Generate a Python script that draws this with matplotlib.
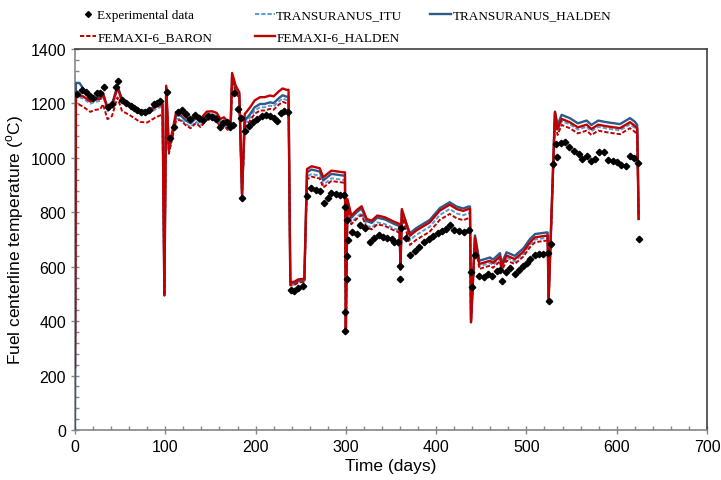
import matplotlib
matplotlib.use('Agg')
from matplotlib import pyplot as plt
from matplotlib.ticker import MultipleLocator

# experimental centerline temperature (days, degC)
exp_days = [2, 8, 12, 17, 20, 24, 28, 32, 36, 41, 45, 48, 52, 57, 62, 65, 69, 73, 77.5, 82, 87, 91, 94,
            102, 105, 110, 114, 118.5, 123, 127, 133, 137.7, 142, 147.7, 152, 156, 160.6, 164, 168, 171.7,
            175, 176, 180, 184, 184.6, 188.6, 193, 197.5, 202, 206.7, 211.5, 216, 220, 224, 228, 232, 236,
            239, 243, 247, 252, 256.6, 261, 266.6, 271, 276, 280, 284, 289, 293.5, 297.5, 299, 298.7, 299.5,
            301, 301.2, 301.6, 302.7, 307, 312, 316, 321, 326.7, 331.5, 336.7, 341.5, 346, 350.7, 353.6, 358,
            359.5, 360, 361, 366.6, 371, 376.5, 381, 386.5, 391.7, 397, 401.6, 406.5, 411, 415, 420, 425.6,
            431, 436, 438.6, 439.7, 443, 447.8, 453, 457.7, 461.4, 467, 470.7, 472.5, 477, 481.8, 487, 492,
            496.5, 501, 504, 509, 514, 518.7, 523.5, 524.6, 527, 529, 532.7, 533.4, 538, 542.7, 547.5, 553,
            558, 562, 566.7, 571, 576, 580.7, 586, 590.7, 595.5, 600, 604.7, 610, 614.7, 619.4, 624, 624.3]
exp_temp = [1235, 1251, 1241, 1229, 1219, 1237, 1237, 1259, 1188, 1198, 1259, 1282, 1214, 1200, 1192, 1184, 1177, 1169, 1170, 1177, 1197, 1200, 1210,
            1243, 1073, 1112, 1170, 1177, 1161, 1143, 1158, 1148, 1139, 1153, 1151, 1143, 1115, 1128, 1131, 1112,
            1121, 1237, 1180, 1147, 852, 1100, 1118, 1131, 1143, 1153, 1158, 1155, 1146, 1137, 1165, 1172, 1168,
            516, 510, 522, 530, 859, 888, 883, 877, 834, 853, 870, 866, 865, 863, 821, 363, 435,
            555, 641, 772, 697, 729, 720, 753, 741, 690, 705, 718, 710, 707, 702, 690, 690,
            556, 601, 741, 705, 643, 659, 671, 690, 702, 712, 723, 733, 739, 753, 736, 733,
            727, 735, 580, 524, 643, 567, 563, 573, 566, 585, 589, 546, 579, 594, 573, 589,
            601, 614, 628, 643, 645, 647, 649, 473, 682, 978, 1051, 1004, 1054, 1057, 1041, 1024,
            1014, 996, 1006, 987, 996, 1023, 1023, 992, 990, 984, 974, 971, 1006, 998, 980, 702]

# model time axis shared by the four codes
mod_days = [0, 1, 5, 9, 17, 22, 28, 31, 36, 41, 47, 52, 62, 72, 80, 89, 95, 97, 99, 101, 104,
            112, 117, 123, 128, 134, 139, 146, 152, 157, 161, 165, 169, 172.5, 174, 178, 182, 185,
            188, 194, 199, 205, 210, 216, 220, 226, 230, 234, 236.5,
            238.5, 243, 247, 251, 254,
            257, 262, 271, 275, 284, 297, 299, 300,
            301.7, 306, 312.7, 317.5, 323, 328.6, 334.8, 343, 353, 359.5, 360.5, 362,
            371, 378, 393, 404, 415, 422.7, 430, 435.6, 437.5, 438.6,
            443, 447.8, 454, 459.6, 463, 470.7, 472.5, 478, 487, 496.5, 504, 509.5, 522.4, 523.5, 524.6,
            531.6, 534.5, 539, 548, 557, 566.7, 572, 579.5, 588.8, 603.6, 614.7, 620, 622.7, 624.3]

fem_halden = [230, 1229, 1229, 1226, 1207, 1214, 1217, 1235, 1180, 1192, 1260, 1211, 1192, 1170, 1168, 1186, 1195, 1195, 495, 1265, 1033,
              1168, 1168, 1149, 1139, 1158, 1143, 1170, 1171, 1165, 1143, 1149, 1133, 1137, 1312, 1265, 1241, 868,
              1161, 1186, 1211, 1223, 1223, 1229, 1226, 1245, 1255, 1250, 1250,
              543, 545, 553, 555, 555,
              959, 969, 962, 929, 953, 947, 947, 364,
              849, 788, 810, 822, 776, 769, 788, 782, 766, 757, 590, 812,
              714, 733, 763, 806, 828, 812, 805, 812, 812, 396,
              708, 610, 616, 622, 614, 638, 601, 641, 628, 655, 690, 708, 714, 714, 480,
              1168, 1106, 1143, 1131, 1112, 1122, 1106, 1122, 1116, 1109, 1131, 1118, 1106, 776]
tu_halden = [0, 1275, 1275, 1255, 1212, 1219, 1222, 1240, 1185, 1197, 1265, 1216, 1197, 1175, 1173, 1191, 1200, 1200, 495, 1260, 1025,
             1156, 1156, 1137, 1127, 1146, 1131, 1158, 1159, 1153, 1131, 1137, 1121, 1125, 1300, 1255, 1231, 862,
             1136, 1161, 1186, 1198, 1198, 1204, 1201, 1220, 1230, 1225, 1225,
             538, 540, 548, 550, 550,
             947, 957, 950, 917, 941, 935, 935, 364,
             841, 780, 802, 814, 768, 761, 780, 774, 758, 749, 590, 805,
             723, 742, 772, 815, 837, 821, 814, 821, 821, 396,
             715, 622, 628, 634, 626, 650, 613, 653, 640, 667, 702, 720, 726, 726, 480,
             1170, 1121, 1158, 1146, 1127, 1137, 1121, 1137, 1131, 1124, 1146, 1133, 1121, 790]
tu_itu = [0, 1222, 1222, 1218, 1199, 1206, 1209, 1227, 1172, 1184, 1252, 1203, 1184, 1162, 1160, 1178, 1187, 1187, 495, 1255, 1020,
          1143, 1143, 1124, 1114, 1133, 1118, 1145, 1146, 1140, 1118, 1124, 1108, 1112, 1290, 1245, 1221, 858,
          1124, 1149, 1174, 1186, 1186, 1192, 1189, 1208, 1218, 1213, 1213,
          533, 535, 543, 545, 545,
          931, 941, 934, 901, 925, 919, 919, 364,
          824, 763, 785, 797, 751, 744, 763, 757, 741, 732, 590, 795,
          698, 717, 747, 790, 812, 796, 789, 796, 796, 396,
          700, 602, 608, 614, 606, 630, 593, 633, 620, 647, 682, 700, 706, 706, 480,
          1150, 1098, 1135, 1123, 1104, 1114, 1098, 1114, 1108, 1101, 1123, 1110, 1098, 770]
fem_baron = [230, 1202, 1195, 1188, 1169, 1176, 1179, 1197, 1142, 1154, 1222, 1173, 1154, 1132, 1130, 1148, 1157, 1157, 495, 1250, 1015,
             1138, 1138, 1119, 1109, 1128, 1113, 1140, 1141, 1135, 1113, 1119, 1103, 1107, 1285, 1240, 1216, 855,
             1112, 1137, 1162, 1174, 1174, 1180, 1177, 1196, 1206, 1201, 1201,
             531, 533, 541, 543, 543,
             921, 931, 924, 891, 915, 909, 909, 364,
             817, 756, 778, 790, 744, 737, 756, 750, 734, 725, 590, 790,
             680, 699, 729, 772, 794, 778, 771, 778, 778, 396,
             690, 592, 598, 604, 596, 620, 583, 623, 610, 637, 672, 690, 696, 696, 480,
             1140, 1084, 1121, 1109, 1090, 1100, 1084, 1100, 1094, 1087, 1109, 1096, 1084, 765]

plt.rcParams['font.family'] = ['Liberation Sans', 'DejaVu Sans']

fig = plt.figure(figsize=(7.21, 4.81), dpi=100)
ax = fig.add_axes([75/721, 1 - 431/481, 632/721, 381/481])

dash = (2.2, 1.0)
l_itu, = ax.plot(mod_days, tu_itu, color='#5B9BD5', lw=1.4, dashes=dash, zorder=2)
l_th, = ax.plot(mod_days, tu_halden, color='#2E5A88', lw=1.7, zorder=3)
l_fb, = ax.plot(mod_days, fem_baron, color='#C00000', lw=1.4, dashes=dash, zorder=4)
l_fh, = ax.plot(mod_days, fem_halden, color='#C00000', lw=1.7, zorder=5)
l_exp, = ax.plot(exp_days, exp_temp, ls='none', marker='D', ms=3.3, color='black', zorder=6)

ax.set_xlim(0, 700)
ax.set_ylim(0, 1400)
ax.xaxis.set_major_locator(MultipleLocator(100))
ax.xaxis.set_minor_locator(MultipleLocator(20))
ax.yaxis.set_major_locator(MultipleLocator(200))
ax.yaxis.set_minor_locator(MultipleLocator(40))
ax.tick_params(which='major', direction='inout', length=6, width=1, color='#868686', labelsize=11.5)
ax.tick_params(which='minor', direction='in', length=3, width=1, color='#868686')
for s in ax.spines.values():
    s.set_color('#868686')
    s.set_linewidth(1.2)
ax.spines['top'].set_color('#404040')
ax.spines['right'].set_color('#404040')

ax.set_xlabel('Time (days)', fontsize=12.5, labelpad=3)
ax.set_ylabel('Fuel centerline temperature ($^{\\mathregular{o}}$C)', fontsize=12.5, labelpad=3)

# legend laid out as three columns, like the original
leg_font = {'family': 'Liberation Serif', 'size': 9.5}
cols = [(80, 1.2, [l_exp, l_fb], ['Experimental data', 'FEMAXI-6_BARON']),
        (255, 1.5, [l_itu, l_fh], ['TRANSURANUS_ITU', 'FEMAXI-6_HALDEN']),
        (430, 1.6, [l_th], ['TRANSURANUS_HALDEN'])]
for x0, hl, hs, labs in cols:
    fig.legend(hs, labs, loc='upper left', bbox_to_anchor=(x0/721, 1 - 10/481), frameon=False,
               prop=leg_font, handlelength=hl, handletextpad=0.1, borderpad=0, borderaxespad=0,
               labelspacing=0.75, markerscale=0.9)

fig.savefig('out.png', dpi=100)
